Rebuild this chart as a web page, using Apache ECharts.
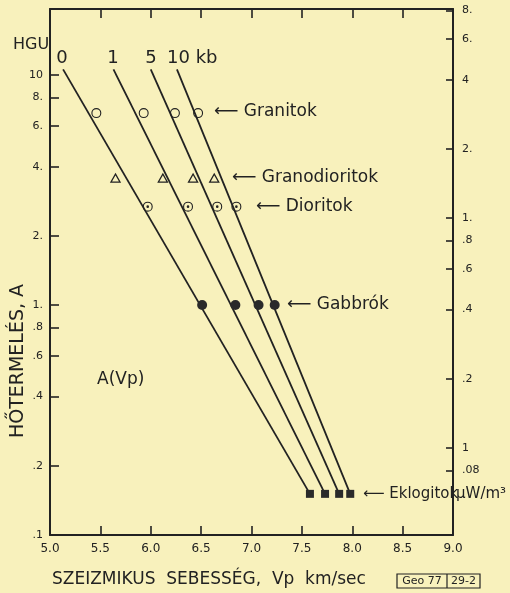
<!DOCTYPE html>
<html>
<head>
<meta charset="utf-8">
<script src="https://cdn.jsdelivr.net/npm/echarts@6/dist/echarts.min.js"></script>
<style>
html,body{margin:0;padding:0;background:#f8f1bc;}
#chart{width:510px;height:593px;}
</style>
</head>
<body>
<div id="chart"></div>
<script>
// ---- data (Vp in km/s, A in HGU) ----
const pressures = ['0', '1', '5', '10 kb'];
const lineTopVp = [5.13, 5.63, 6.00, 6.26];
const lineTopA = 10.6;
const eklogitVp = [7.58, 7.73, 7.87, 7.98];
const eklogitA = 0.151;
const granitVp = [5.46, 5.93, 6.24, 6.47];
const granitA = 6.84;
const granodioritVp = [5.65, 6.12, 6.42, 6.63];
const granodioritA = 3.57;
const dioritVp = [5.97, 6.37, 6.66, 6.85];
const dioritA = 2.68;
const gabbroVp = [6.51, 6.84, 7.07, 7.23];
const gabbroA = 1.0;

// ---- axes ----
const vpMin = 5.0, vpMax = 9.0, vpStep = 0.5;
const hguMin = 0.1, hguMax = 19.4;
const hguToUW = 0.4184;
const hguTicks = [0.1, 0.2, 0.4, 0.6, 0.8, 1, 2, 4, 6, 8, 10];
const hguTickLabels = ['.1', '.2', '.4', '.6', '.8', '1.', '2.', '4.', '6.', '8.', '10'];
const uwTicks = [0.08, 0.1, 0.2, 0.4, 0.6, 0.8, 1, 2, 4, 6, 8];
const uwTickLabels = ['.08', '1', '.2', '.4', '.6', '.8', '1.', '2.', '4', '6.', '8.'];

const ink = '#222222';
const FONT = 'DejaVu Sans';

function lookup(vals, labels, v) {
  for (let i = 0; i < vals.length; i++) {
    if (Math.abs(Math.log10(vals[i]) - Math.log10(v)) < 1e-4) return labels[i];
  }
  return '';
}
function pts(xs, y) { return xs.map(x => [x, y]); }

const ringPath = 'path://M0,-5A5,5 0 1,1 0,5A5,5 0 1,1 0,-5Z M0,-3.9A3.9,3.9 0 1,0 0,3.9A3.9,3.9 0 1,0 0,-3.9Z';
const ringDotPath = 'path://M0,-5A5,5 0 1,1 0,5A5,5 0 1,1 0,-5Z M0,-3.9A3.9,3.9 0 1,0 0,3.9A3.9,3.9 0 1,0 0,-3.9Z M0,-1.3A1.3,1.3 0 1,1 0,1.3A1.3,1.3 0 1,1 0,-1.3Z';

const lineSeries = pressures.map((p, i) => ({
  type: 'line',
  name: p,
  xAxisIndex: 0, yAxisIndex: 0,
  data: [[lineTopVp[i], lineTopA], [eklogitVp[i], eklogitA]],
  symbol: 'none',
  lineStyle: { color: ink, width: 1.8 },
  z: 2,
  silent: true
}));

const option = {
  backgroundColor: '#f8f1bc',
  animation: false,
  textStyle: { fontFamily: FONT, color: ink },
  grid: { left: 50, right: 57, top: 9, bottom: 58 },
  xAxis: [
    {
      type: 'value', min: vpMin, max: vpMax, interval: vpStep, position: 'bottom',
      axisLine: { lineStyle: { color: ink, width: 2 } },
      axisTick: { inside: true, length: 9, lineStyle: { color: ink, width: 1.6 } },
      axisLabel: { color: ink, fontSize: 12, margin: 8, fontFamily: FONT, formatter: v => v.toFixed(1) },
      splitLine: { show: false }
    },
    {
      type: 'value', min: vpMin, max: vpMax, interval: vpStep, position: 'top',
      axisLine: { lineStyle: { color: ink, width: 2 } },
      axisTick: { inside: true, length: 9, lineStyle: { color: ink, width: 1.6 } },
      axisLabel: { show: false },
      splitLine: { show: false }
    }
  ],
  yAxis: [
    {
      type: 'log', logBase: 10, min: hguMin, max: hguMax, position: 'left',
      axisLine: { show: true, lineStyle: { color: ink, width: 2 } },
      axisTick: { inside: true, length: 9, customValues: hguTicks, lineStyle: { color: ink, width: 1.6 } },
      axisLabel: { color: ink, fontSize: 11, margin: 7, fontFamily: FONT, customValues: hguTicks,
        formatter: v => lookup(hguTicks, hguTickLabels, v) },
      splitLine: { show: false }
    },
    {
      type: 'log', logBase: 10, min: hguMin * hguToUW, max: hguMax * hguToUW, position: 'right',
      axisLine: { show: true, lineStyle: { color: ink, width: 2 } },
      axisTick: { inside: true, length: 7, customValues: uwTicks, lineStyle: { color: ink, width: 1.6 } },
      axisLabel: { color: ink, fontSize: 11, margin: 9, fontFamily: FONT, customValues: uwTicks,
        formatter: v => lookup(uwTicks, uwTickLabels, v) },
      splitLine: { show: false }
    }
  ],
  series: lineSeries.concat([
    { type: 'scatter', name: 'Granitok', data: pts(granitVp, granitA), symbol: ringPath, symbolSize: 10,
      itemStyle: { color: ink, opacity: 1 }, z: 3 },
    { type: 'scatter', name: 'Granodioritok', data: pts(granodioritVp, granodioritA), symbol: 'triangle', symbolSize: [9, 8],
      itemStyle: { color: 'rgba(0,0,0,0)', borderColor: ink, borderWidth: 1.3, opacity: 1 }, z: 3 },
    { type: 'scatter', name: 'Dioritok', data: pts(dioritVp, dioritA), symbol: ringDotPath, symbolSize: 10,
      itemStyle: { color: ink, opacity: 1 }, z: 3 },
    { type: 'scatter', name: 'Gabbrók', data: pts(gabbroVp, gabbroA), symbol: 'circle', symbolSize: 10,
      itemStyle: { color: '#2a2a2a', opacity: 1 }, z: 3 },
    { type: 'scatter', name: 'Eklogitok', data: pts(eklogitVp, eklogitA), symbol: 'rect', symbolSize: 8,
      itemStyle: { color: '#2a2a2a', opacity: 1 }, z: 3 }
  ]),
  graphic: [
    { type: 'text', left: 13, top: 37, style: { text: 'HGU', fontSize: 16, fill: ink, fontFamily: FONT } },
    { type: 'text', x: 62, y: 58, style: { text: '0', fontSize: 18, fill: ink, fontFamily: FONT, align: 'center', verticalAlign: 'middle' } },
    { type: 'text', x: 113, y: 58, style: { text: '1', fontSize: 18, fill: ink, fontFamily: FONT, align: 'center', verticalAlign: 'middle' } },
    { type: 'text', x: 151, y: 58, style: { text: '5', fontSize: 18, fill: ink, fontFamily: FONT, align: 'center', verticalAlign: 'middle' } },
    { type: 'text', x: 167, y: 58, style: { text: '10 kb', fontSize: 18, fill: ink, fontFamily: FONT, align: 'left', verticalAlign: 'middle' } },
    { type: 'text', x: 214, y: 112, style: { text: '⟵ Granitok', fontSize: 17, fill: ink, fontFamily: FONT, verticalAlign: 'middle' } },
    { type: 'text', x: 232, y: 178, style: { text: '⟵ Granodioritok', fontSize: 17, fill: ink, fontFamily: FONT, verticalAlign: 'middle' } },
    { type: 'text', x: 256, y: 207, style: { text: '⟵ Dioritok', fontSize: 17, fill: ink, fontFamily: FONT, verticalAlign: 'middle' } },
    { type: 'text', x: 287, y: 305, style: { text: '⟵ Gabbrók', fontSize: 17, fill: ink, fontFamily: FONT, verticalAlign: 'middle' } },
    { type: 'text', x: 97, y: 380, style: { text: 'A(Vp)', fontSize: 17, fill: ink, fontFamily: FONT, verticalAlign: 'middle' } },
    { type: 'text', x: 363, y: 494, style: { text: '⟵ Eklogitok', fontSize: 15, fill: ink, fontFamily: FONT, verticalAlign: 'middle' } },
    { type: 'text', x: 456, y: 494, style: { text: 'µW/m³', fontSize: 15, fill: ink, fontFamily: FONT, verticalAlign: 'middle' } },
    { type: 'text', x: 18, y: 361, rotation: Math.PI / 2, style: { text: 'HŐTERMELÉS, A', fontSize: 19, fill: ink, fontFamily: FONT, align: 'center', verticalAlign: 'middle' } },
    { type: 'text', x: 52, y: 580, style: { text: 'SZEIZMIKUS  SEBESSÉG,  Vp  km/sec', fontSize: 17, fill: ink, fontFamily: FONT, verticalAlign: 'middle' } },
    { type: 'rect', shape: { x: 397, y: 574, width: 83, height: 14 }, style: { fill: 'none', stroke: ink, lineWidth: 1.2 } },
    { type: 'line', shape: { x1: 447, y1: 574, x2: 447, y2: 588 }, style: { stroke: ink, lineWidth: 1.2 } },
    { type: 'text', x: 422, y: 581, style: { text: 'Geo 77', fontSize: 11, fill: ink, fontFamily: FONT, align: 'center', verticalAlign: 'middle' } },
    { type: 'text', x: 463.5, y: 581, style: { text: '29-2', fontSize: 11, fill: ink, fontFamily: FONT, align: 'center', verticalAlign: 'middle' } }
  ]
};

const chart = echarts.init(document.getElementById('chart'), null, { renderer: 'canvas' });
chart.setOption(option);
</script>
</body>
</html>
